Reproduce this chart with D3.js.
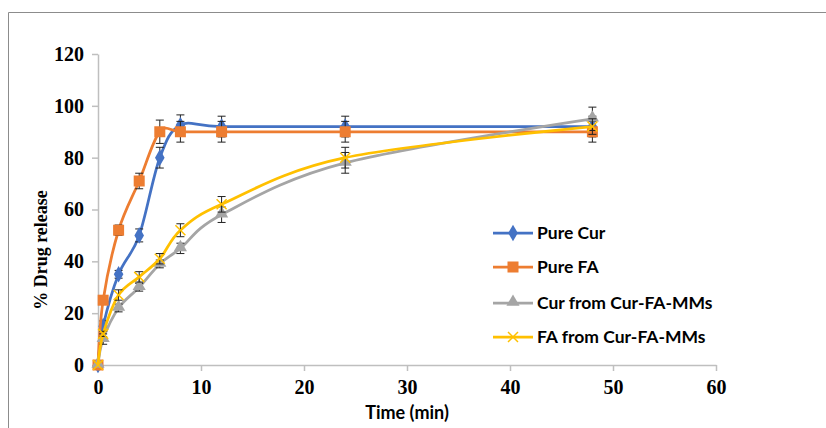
<!DOCTYPE html>
<html>
<head>
<meta charset="utf-8">
<title>Drug release</title>
<script src="https://d3js.org/d3.v7.min.js"></script>
<style>
  body { margin: 0; background: #fff; }
</style>
</head>
<body>
<div id="chart"></div>
<script>
// data
var times = [0, 0.5, 2, 4, 6, 8, 12, 24, 48];
var pureCur = [0, 15, 35, 50, 80, 92.5, 92, 92, 92];
var pureCurErr = [0, 2, 1.5, 2.5, 4, 4, 4, 4, 4];
var pureFA = [0, 25, 52, 71, 90, 90, 90, 90, 90];
var pureFAErr = [0, 1.5, 2, 3, 4.5, 4, 4, 4, 4];
var curMM = [0, 10, 22, 30, 39, 45, 58, 78, 95];
var curMMErr = [0, 2, 1.5, 1.5, 1.5, 2, 3, 4, 4.5];
var faMM = [0, 12, 27, 34, 41, 52, 62, 80, 92];
var faMMErr = [0, 1, 2, 2, 2, 2.5, 3, 4, 3];
var seriesNames = ["Pure Cur", "Pure FA", "Cur from Cur-FA-MMs", "FA from Cur-FA-MMs"];
var seriesColors = ["#4472C4", "#ED7D31", "#A5A5A5", "#FFC000"];
var xTicks = [0, 10, 20, 30, 40, 50, 60];
var yTicks = [0, 20, 40, 60, 80, 100, 120];

var series = [
  { name: seriesNames[0], color: seriesColors[0], values: pureCur, err: pureCurErr, marker: "diamond" },
  { name: seriesNames[1], color: seriesColors[1], values: pureFA, err: pureFAErr, marker: "square" },
  { name: seriesNames[2], color: seriesColors[2], values: curMM, err: curMMErr, marker: "triangle" },
  { name: seriesNames[3], color: seriesColors[3], values: faMM, err: faMMErr, marker: "cross" }
];

var W = 826, H = 428;
var svg = d3.select("#chart").append("svg")
  .attr("width", W).attr("height", H);

// outer frame (top and left edges visible)
svg.append("path")
  .attr("d", "M8.5," + H + " L8.5,12.5 L" + W + ",12.5")
  .attr("fill", "none").attr("stroke", "#8c8c8c").attr("stroke-width", 1);

var x = d3.scaleLinear().domain([0, 60]).range([98, 716]);
var y = d3.scaleLinear().domain([0, 120]).range([365, 54]);

// axes
var gx = svg.append("g").attr("transform", "translate(0,365)")
  .call(d3.axisBottom(x).tickValues(xTicks).tickSize(6).tickPadding(9).tickSizeOuter(0));
var gy = svg.append("g").attr("transform", "translate(98,0)")
  .call(d3.axisLeft(y).tickValues(yTicks).tickSize(6).tickPadding(8).tickSizeOuter(0));
[gx, gy].forEach(function (g) {
  g.select(".domain").attr("stroke", "#bfbfbf").attr("stroke-width", 1.5);
  g.selectAll(".tick line").attr("stroke", "#bfbfbf").attr("stroke-width", 1.5);
  g.selectAll(".tick text")
    .attr("fill", "#000")
    .style("font-family", "'Liberation Serif', 'Times New Roman', serif")
    .style("font-weight", "bold")
    .style("font-size", "20px");
});

// axis titles
svg.append("text")
  .attr("x", 407).attr("y", 419)
  .attr("text-anchor", "middle")
  .style("font-family", "Lato, sans-serif")
  .style("font-weight", "bold")
  .style("font-size", "18px")
  .text("Time (min)");

svg.append("text")
  .attr("transform", "translate(47,250) rotate(-90)")
  .attr("text-anchor", "middle")
  .style("font-family", "'Liberation Serif', 'Times New Roman', serif")
  .style("font-weight", "bold")
  .style("font-size", "18px")
  .text("% Drug release");

var line = d3.line()
  .x(function (d) { return x(d[0]); })
  .y(function (d) { return y(d[1]); })
  .curve(d3.curveCardinal.tension(0));

function drawMarker(g, type, color, cx, cy) {
  if (type === "diamond") {
    g.append("path").attr("d", d3.symbol().type(d3.symbolDiamond).size(80)())
      .attr("transform", "translate(" + cx + "," + cy + ")").attr("fill", color);
  } else if (type === "square") {
    g.append("rect").attr("x", cx - 5.5).attr("y", cy - 5.5)
      .attr("width", 11).attr("height", 11).attr("fill", color);
  } else if (type === "triangle") {
    g.append("path").attr("d", d3.symbol().type(d3.symbolTriangle).size(75)())
      .attr("transform", "translate(" + cx + "," + (cy - 1) + ")").attr("fill", color);
  } else {
    g.append("path")
      .attr("d", "M" + (cx - 5) + "," + (cy - 5) + "L" + (cx + 5) + "," + (cy + 5) +
        "M" + (cx + 5) + "," + (cy - 5) + "L" + (cx - 5) + "," + (cy + 5))
      .attr("stroke", color).attr("stroke-width", 1.5);
  }
}

series.forEach(function (s) {
  var pts = times.map(function (t, i) { return [t, s.values[i]]; });
  var g = svg.append("g");
  g.append("path").datum(pts)
    .attr("d", line)
    .attr("fill", "none")
    .attr("stroke", s.color)
    .attr("stroke-width", 2.75);

  // error bars
  pts.forEach(function (p, i) {
    var e = s.err[i];
    if (!e) return;
    var cx = x(p[0]), y0 = y(p[1] - e), y1 = y(p[1] + e);
    g.append("path")
      .attr("d", "M" + cx + "," + y0 + "L" + cx + "," + y1 +
        "M" + (cx - 4) + "," + y0 + "L" + (cx + 4) + "," + y0 +
        "M" + (cx - 4) + "," + y1 + "L" + (cx + 4) + "," + y1)
      .attr("stroke", "#222").attr("stroke-width", 1).attr("fill", "none");
  });

  pts.forEach(function (p) {
    drawMarker(g, s.marker, s.color, x(p[0]), y(p[1]));
  });
});

// legend
var legendY = [233, 267, 303, 337];
series.forEach(function (s, i) {
  var g = svg.append("g");
  g.append("line")
    .attr("x1", 493).attr("x2", 533)
    .attr("y1", legendY[i]).attr("y2", legendY[i])
    .attr("stroke", s.color).attr("stroke-width", 2.75);
  drawMarker(g, s.marker, s.color, 513, legendY[i]);
  g.append("text")
    .attr("x", 537).attr("y", legendY[i])
    .attr("dy", "0.35em")
    .style("font-family", "Lato, sans-serif")
    .style("font-weight", "bold")
    .style("font-size", "17.5px")
    .text(s.name);
});
</script>
</body>
</html>
